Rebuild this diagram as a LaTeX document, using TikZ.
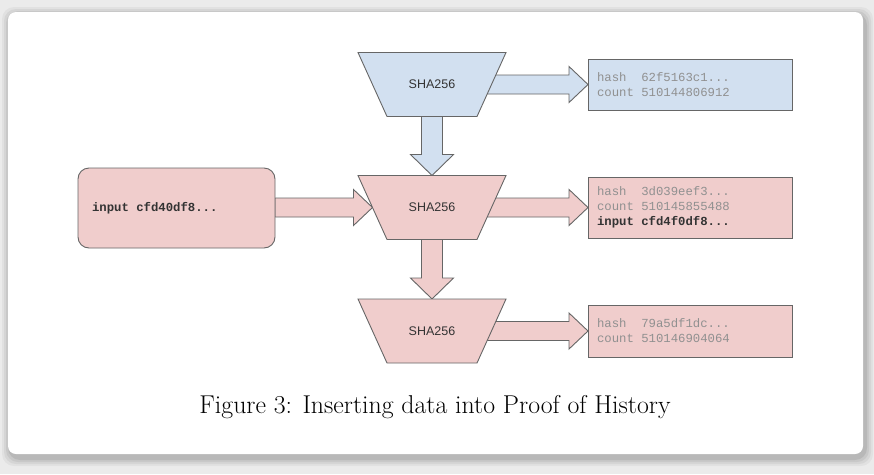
\documentclass[tikz,border=0pt]{standalone}
\usepackage{fontspec}
\newfontfamily\monofont{Liberation Mono}
\newfontfamily\sansfont{Liberation Sans}
\usetikzlibrary{calc}
\definecolor{bluef}{HTML}{D2E0F0}
\definecolor{pinkf}{HTML}{F0CDCC}
\definecolor{edgec}{HTML}{666666}
\definecolor{mtext}{HTML}{909090}
\definecolor{dtext}{HTML}{333333}
\definecolor{outer}{HTML}{EBEBEB}
\pgfdeclarelayer{back}
\pgfdeclarelayer{arrows}
\pgfdeclarelayer{shapes}
\pgfsetlayers{back,arrows,shapes,main}
\newcommand\msp{\hphantom{x}}
\newcommand\hblock[3]{\path[blockarrow,fill=#3] let \p1=(#1),\p2=(#2) in
  ({\x1},{\y2+9.5pt}) -- ({\x2-19pt},{\y2+9.5pt}) -- ({\x2-19pt},{\y2+18pt}) -- ({\x2},{\y2})
  -- ({\x2-19pt},{\y2-18pt}) -- ({\x2-19pt},{\y2-9.5pt}) -- ({\x1},{\y2-9.5pt}) -- cycle;}
\newcommand\vblock[3]{\path[blockarrow,fill=#3] let \p1=(#1),\p2=(#2) in
  ({\x2-10.5pt},{\y1}) -- ({\x2-10.5pt},{\y2+21pt}) -- ({\x2-21.5pt},{\y2+21pt}) -- ({\x2},{\y2})
  -- ({\x2+21.5pt},{\y2+21pt}) -- ({\x2+10.5pt},{\y2+21pt}) -- ({\x2+10.5pt},{\y1}) -- cycle;}
\newcommand\trap[2]{\path[blockarrow,fill=#2] (#1.north west) -- (#1.north east)
  -- ($(#1.south east)+(-29,0)$) -- ($(#1.south west)+(29,0)$) -- cycle;}
\begin{document}
\begin{tikzpicture}[x=1pt,y=-1pt,
  blockarrow/.style={draw=edgec,line width=0.9pt,line join=miter},
  hashbox/.style={draw=edgec,line width=0.9pt,text width=186pt,inner xsep=9pt,inner ysep=0pt,
    align=left,font=\monofont\fontsize{12.3}{15}\selectfont,outer sep=0pt},
  hashfn/.style={rectangle,minimum width=148pt,minimum height=64pt,outer sep=0pt,inner sep=0pt,
    font=\sansfont\fontsize{12.5}{14}\selectfont,text=dtext},
  inbox/.style={draw=edgec,line width=0.9pt,rounded corners=11pt,minimum width=197pt,minimum height=80pt,
    text width=169pt,inner xsep=14pt,align=left,outer sep=0pt,fill=pinkf,
    font=\monofont\bfseries\fontsize{12.3}{15}\selectfont,text=dtext},
  caption/.style={font=\fontsize{25.8}{30}\selectfont,text=black}]
\useasboundingbox (0,0) rectangle (874,474);
\begin{pgfonlayer}{back}
  \fill[outer] (0,0) rectangle (874,474);
  \foreach \i/\o in {8/0.04,6/0.05,4/0.06,2/0.08}
    \fill[black,opacity=\o,rounded corners=12pt] (8-\i+2,12-\i+3) rectangle (863+\i+2,454+\i+4);
  \fill[white,rounded corners=8pt] (8,12) rectangle (863,454);
\end{pgfonlayer}

\node[hashfn] (t1) at (432,84.5) {SHA256};
\node[hashfn] (t2) at (432,207.5) {SHA256};
\node[hashfn] (t3) at (432,331) {SHA256};
\coordinate (t2w) at ($(t2.west)+(14.5,0)$);

\node[hashbox,fill=bluef,minimum height=51pt] (b1) at (690,84.5)
  {\textcolor{mtext}{hash\msp\msp62f5163c1...}\\\textcolor{mtext}{count\msp510144806912}};
\node[hashbox,fill=pinkf,minimum height=61pt] (b2) at (690,207.5)
  {\textcolor{mtext}{hash\msp\msp3d039eef3...}\\\textcolor{mtext}{count\msp510145855488}\\
   \textcolor{dtext}{\bfseries input\msp cfd4f0df8...}};
\node[hashbox,fill=pinkf,minimum height=52pt] (b3) at (690,331)
  {\textcolor{mtext}{hash\msp\msp79a5df1dc...}\\\textcolor{mtext}{count\msp510146904064}};

\node[inbox] (in) at (176.5,208) {input\msp cfd40df8...};

\node[caption] (cap) at (435,407) {Figure 3: Inserting data into Proof of History};

\begin{pgfonlayer}{arrows}
  \hblock{t1.center}{b1.west}{bluef}
  \hblock{t2.center}{b2.west}{pinkf}
  \hblock{t3.center}{b3.west}{pinkf}
  \vblock{t1.center}{t2.north}{bluef}
  \vblock{t2.center}{t3.north}{pinkf}
  \hblock{in.east}{t2w}{pinkf}
\end{pgfonlayer}
\begin{pgfonlayer}{shapes}
  \trap{t1}{bluef}
  \trap{t2}{pinkf}
  \trap{t3}{pinkf}
\end{pgfonlayer}
\end{tikzpicture}
\end{document}
